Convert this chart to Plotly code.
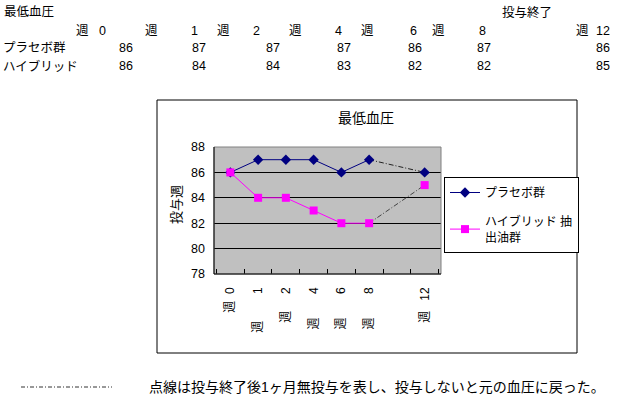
import plotly.graph_objects as go

# ---------------- data ----------------
weeks = ["0", "1", "2", "4", "6", "8", "12"]
placebo = [86, 87, 87, 87, 86, 87, 86]
hybrid = [86, 84, 84, 83, 82, 82, 85]
row_labels = ["プラセボ群", "ハイブリッド"]
series_names = ["プラセボ群", "ハイブリッド 抽<br>出油群"]
chart_title = "最低血圧"
end_label = "投与終了"
y_title = "投与週"
note_text = "点線は投与終了後1ヶ月無投与を表し、投与しないと元の血圧に戻った。"
y_ticks = [78, 80, 82, 84, 86, 88]

# chart categories: weeks with an empty slot before week 12
chart_cats = ["週 0", "週 1", "週 2", "週 4", "週 6", "週 8", " ", "週 12"]
placebo_chart = placebo[:6] + [None] + placebo[6:]
hybrid_chart = hybrid[:6] + [None] + hybrid[6:]

NB = "\u00a0"
tick_gaps = [2, 8, 5, 7, 7, 7, 0, 3]  # spacing inside rotated labels (style)
tick_text = [("週" + NB * g + c.split(" ")[1]) if c.strip() else " " for c, g in zip(chart_cats, tick_gaps)]

# ---------------- geometry ----------------
W, H = 626, 396
L, R, T, B = 214, 185, 147, 122
PW, PH = W - L - R, H - T - B


def fx(px):
    return (px - L) / PW


def fy(py):
    return (H - B - py) / PH


FONT = "Liberation Sans, Arial, Noto Sans CJK JP"

fig = go.Figure()

# dotted continuation after treatment end
fig.add_trace(go.Scatter(
    x=[chart_cats[5], chart_cats[7]], y=[placebo[5], placebo[6]],
    mode="lines", line=dict(color="#222222", width=1, dash="5px,2px,1px,2px"),
    showlegend=False, hoverinfo="skip"))
fig.add_trace(go.Scatter(
    x=[chart_cats[5], chart_cats[7]], y=[hybrid[5], hybrid[6]],
    mode="lines", line=dict(color="#444444", width=1, dash="5px,2px,1px,2px"),
    showlegend=False, hoverinfo="skip"))

fig.add_trace(go.Scatter(
    x=chart_cats, y=placebo_chart, name=series_names[0], legendgroup="a",
    mode="lines+markers", connectgaps=False,
    line=dict(color="#000080", width=1),
    marker=dict(symbol="diamond", size=8, color="#000080")))
fig.add_trace(go.Scatter(
    x=chart_cats, y=hybrid_chart, name=series_names[1], legendgroup="b",
    mode="lines+markers", connectgaps=False,
    line=dict(color="#FF00FF", width=1),
    marker=dict(symbol="square", size=8, color="#FF00FF")))

annotations = []
# chart title
annotations.append(dict(x=fx(366), y=fy(118), xref="paper", yref="paper", text=chart_title,
                        showarrow=False, font=dict(size=14), xanchor="center", yanchor="middle"))
# y axis title
annotations.append(dict(x=fx(176), y=fy(205), xref="paper", yref="paper", text=y_title,
                        showarrow=False, font=dict(size=13), textangle=-90,
                        xanchor="center", yanchor="middle"))

# top table
TF = dict(size=12.5)
annotations.append(dict(x=fx(2), y=fy(12), xref="paper", yref="paper", text=chart_title,
                        showarrow=False, font=TF, xanchor="left", yanchor="middle"))
annotations.append(dict(x=fx(500), y=fy(12), xref="paper", yref="paper", text=end_label,
                        showarrow=False, font=TF, xanchor="left", yanchor="middle"))
wk_x = [82, 151, 223, 295, 367, 438, 582]
num_x = [102, 194, 256, 338, 413, 482, 603]
val_x = [135, 208, 282, 353, 424, 493, 612]
for wx, nx, w in zip(wk_x, num_x, weeks):
    annotations.append(dict(x=fx(wx), y=fy(31), xref="paper", yref="paper", text="週",
                            showarrow=False, font=TF, xanchor="center", yanchor="middle"))
    annotations.append(dict(x=fx(nx), y=fy(31), xref="paper", yref="paper", text=w,
                            showarrow=False, font=TF, xanchor="center", yanchor="middle"))
for row_y, lab, vals in zip([48, 66], row_labels, [placebo, hybrid]):
    annotations.append(dict(x=fx(1), y=fy(row_y), xref="paper", yref="paper", text=lab,
                            showarrow=False, font=TF, xanchor="left", yanchor="middle"))
    for vx, v in zip(val_x, vals):
        annotations.append(dict(x=fx(vx), y=fy(row_y), xref="paper", yref="paper", text=str(v),
                                showarrow=False, font=TF, xanchor="right", yanchor="middle"))

# bottom note
annotations.append(dict(x=fx(147), y=fy(387), xref="paper", yref="paper", text=note_text,
                        showarrow=False, font=dict(size=14), xanchor="left", yanchor="middle"))

shapes = [
    # outer chart frame
    dict(type="rect", xref="paper", yref="paper", x0=fx(157), x1=fx(577), y0=fy(353), y1=fy(100),
         line=dict(color="black", width=1), layer="below"),
    # plot area border (gray)
    dict(type="rect", xref="paper", yref="paper", x0=0, x1=1, y0=0, y1=1,
         line=dict(color="#808080", width=1), layer="above"),
    # axes lines black
    dict(type="line", xref="paper", yref="paper", x0=0, x1=0, y0=0, y1=1,
         line=dict(color="black", width=1), layer="above"),
    dict(type="line", xref="paper", yref="paper", x0=0, x1=1, y0=0, y1=0,
         line=dict(color="black", width=1), layer="above"),
    # dash-dot sample line in note
    dict(type="line", xref="paper", yref="paper", x0=fx(21), x1=fx(112), y0=fy(387), y1=fy(387),
         line=dict(color="#333333", width=1, dash="4px,2px,1px,2px")),
]

fig.update_layout(
    width=W, height=H,
    margin=dict(l=L, r=R, t=T, b=B, autoexpand=False),
    paper_bgcolor="white", plot_bgcolor="#C0C0C0",
    font=dict(family=FONT, size=12, color="black"),
    showlegend=True,
    legend=dict(x=fx(444), y=fy(177), xanchor="left", yanchor="top",
                bgcolor="white", bordercolor="black", borderwidth=1,
                font=dict(size=12), tracegroupgap=10, traceorder="grouped",
                itemwidth=30),
    annotations=annotations, shapes=shapes,
)
fig.update_xaxes(type="category", categoryorder="array", categoryarray=chart_cats,
                 tickvals=chart_cats, ticktext=tick_text, tickangle=-90,
                 tickson="boundaries", ticks="inside", ticklen=5, tickcolor="black",
                 showgrid=False, zeroline=False, showline=False,
                 ticklabelstandoff=10, tickfont=dict(size=12), automargin=False)
fig.update_yaxes(range=[78, 88], tickvals=y_ticks, showgrid=True, gridcolor="black", gridwidth=1,
                 zeroline=False, showline=False, ticks="", ticklabelstandoff=8,
                 tickfont=dict(size=12.5), automargin=False)

fig.write_html("out.html", config={"displayModeBar": False},
               post_script="document.body.style.margin='0px';document.body.style.overflow='hidden';")
